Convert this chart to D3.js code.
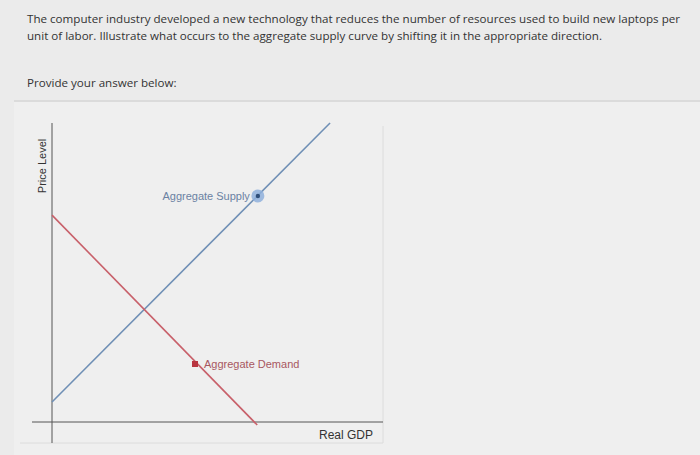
<!DOCTYPE html>
<html><head><meta charset="utf-8">
<script src="https://cdn.jsdelivr.net/npm/d3@7"></script>
<style>body{margin:0;background:#ececec;}</style>
</head><body>
<script>
// AD/AS lines in abstract units (0-100 on both axes)
const supplyLine = [[0, 6.7], [84, 100]];
const demandLine = [[0, 69.2], [62, -1]];
const supplyHandle = [62.2, 75.6];
const demandHandle = [43.2, 19.4];
const questionLines = [
  "The computer industry developed a new technology that reduces the number of resources used to build new laptops per",
  "unit of labor. Illustrate what occurs to the aggregate supply curve by shifting it in the appropriate direction."
];
const questionWidths = [653, 575];

const svg = d3.select("body").append("svg").attr("width", 700).attr("height", 455);

svg.append("rect").attr("width", 700).attr("height", 455).attr("fill", "#ebebeb");
svg.append("rect").attr("x", 14).attr("y", 102).attr("width", 686).attr("height", 353).attr("fill", "#efefef");
svg.append("line").attr("x1", 14).attr("x2", 700).attr("y1", 101).attr("y2", 101)
  .attr("stroke", "#d6d6d6").attr("stroke-width", 1.5);

svg.selectAll("text.q").data(questionLines).join("text")
  .attr("x", 27).attr("y", (d, i) => 23 + i * 17)
  .attr("textLength", (d, i) => questionWidths[i]).attr("lengthAdjust", "spacingAndGlyphs")
  .style("font-family", "Open Sans").style("font-size", "11.6px").attr("fill", "#333")
  .text(d => d);
svg.append("text").attr("x", 27).attr("y", 87)
  .style("font-family", "Open Sans").style("font-size", "11.6px").attr("fill", "#333")
  .text("Provide your answer below:");

// graph panel border
svg.append("path").attr("d", "M383,126 V443 H20").attr("fill", "none").attr("stroke", "#dcdcdc");

const x = d3.scaleLinear().domain([0, 100]).range([52, 383]);
const y = d3.scaleLinear().domain([0, 100]).range([422, 123]);

svg.append("line").attr("x1", x(0)).attr("x2", x(0)).attr("y1", 123).attr("y2", 443)
  .attr("stroke", "#555").attr("stroke-width", 1);
svg.append("line").attr("x1", 32).attr("x2", 383).attr("y1", y(0)).attr("y2", y(0))
  .attr("stroke", "#555").attr("stroke-width", 1);

const line = d3.line().x(d => x(d[0])).y(d => y(d[1]));
svg.append("path").attr("d", line(supplyLine)).attr("stroke", "#6f8fb5").attr("stroke-width", 1.6).attr("fill", "none");
svg.append("path").attr("d", line(demandLine)).attr("stroke", "#c8606a").attr("stroke-width", 1.6).attr("fill", "none");

svg.append("circle").attr("cx", x(supplyHandle[0])).attr("cy", y(supplyHandle[1])).attr("r", 6.5)
  .attr("fill", "#8fb0dc").attr("opacity", 0.85);
svg.append("circle").attr("cx", x(supplyHandle[0])).attr("cy", y(supplyHandle[1])).attr("r", 2.2).attr("fill", "#2f4f7a");
svg.append("rect").attr("x", x(demandHandle[0]) - 3).attr("y", y(demandHandle[1]) - 3)
  .attr("width", 6).attr("height", 6).attr("fill", "#b8343f");

svg.append("text").attr("x", x(supplyHandle[0]) - 8).attr("y", y(supplyHandle[1]) + 4).attr("text-anchor", "end")
  .style("font-family", "Liberation Sans").style("font-size", "11px").attr("fill", "#6b82a3").text("Aggregate Supply");
svg.append("text").attr("x", x(demandHandle[0]) + 9).attr("y", y(demandHandle[1]) + 4)
  .style("font-family", "Liberation Sans").style("font-size", "11px").attr("fill", "#a8575f").text("Aggregate Demand");
svg.append("text").attr("x", 373).attr("y", 439).attr("text-anchor", "end")
  .style("font-family", "Liberation Sans").style("font-size", "12px").attr("fill", "#333").text("Real GDP");
svg.append("text").attr("transform", "translate(46,166) rotate(-90)").attr("text-anchor", "middle")
  .style("font-family", "Liberation Sans").style("font-size", "11px").attr("fill", "#333").text("Price Level");
</script>
</body></html>
